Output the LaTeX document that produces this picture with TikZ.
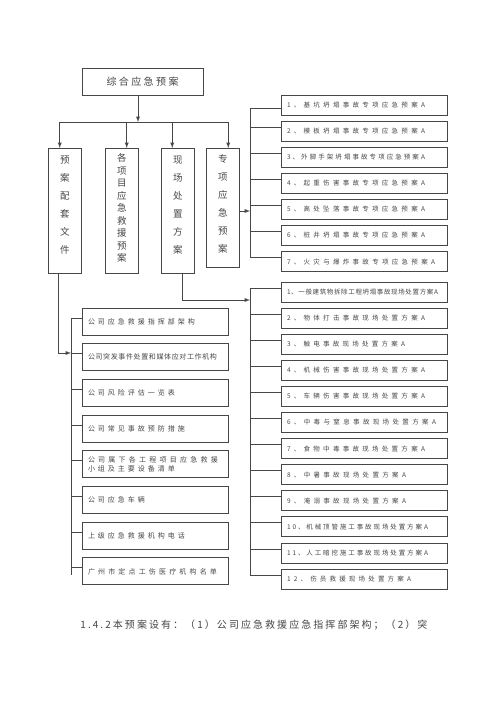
\documentclass[tikz,border=0pt]{standalone}
\usepackage{fontspec}
\setmainfont{Noto Sans CJK SC}
\newcommand\spread[2]{\hbox to #1{\expandafter\spreadA#2\relax}}
\def\spreadA#1{#1\futurelet\spreadnext\spreadB}
\def\spreadB{\ifx\spreadnext\relax\expandafter\spreadC\else\hfill\expandafter\spreadA\fi}
\def\spreadC\relax{}
\begin{document}
\begin{tikzpicture}[x=1pt,y=-1pt,line width=0.9pt,black!72,
    box/.style={draw,anchor=north west,inner ysep=0pt,inner xsep=6pt,outer sep=0pt,align=left},
    colbox/.style={draw,anchor=north west,inner sep=0pt,outer sep=0pt,minimum width=33.5pt,
        align=center,text depth=12pt,font=\fontsize{9.5}{18}\selectfont},
    lbox/.style={box,text width=134pt,minimum height=27pt,font=\fontsize{7}{8.5}\selectfont},
    rbox/.style={box,text width=154pt,minimum height=20pt,font=\fontsize{6.5}{8}\selectfont}]
    \path[fill=white,use as bounding box] (0,0) rectangle (500,707);
    \node[box,minimum width=121pt,minimum height=27pt,inner xsep=0pt,align=center,
        font=\fontsize{10}{12}\selectfont] (top) at (82,68) {\spread{72pt}{综合应急预案}};
    \node[colbox,minimum height=125pt] (a) at (48,148) {预\\案\\配\\套\\文\\件};
    \node[colbox,minimum height=125pt,text depth=6pt,font=\fontsize{9.5}{12.5}\selectfont] (b) at (105,148)
        {各\\项\\目\\应\\急\\救\\援\\预\\案};
    \node[colbox,minimum height=125pt] (c) at (161,148) {现\\场\\处\\置\\方\\案};
    \node[colbox,minimum height=119pt,text depth=8pt] (d) at (206,148) {专\\项\\应\\急\\预\\案};
    \coordinate (bus) at (0,122);
    \coordinate (t0) at ([xshift=-4.5pt]top.south);
    \draw[-latex] (t0) -- (t0 |- bus);
    \foreach \c/\s in {a/-5,b/5,c/-5.5,d/5.5}
    {
        \coordinate (\c0) at ([xshift=\s pt]\c.north);
        \draw[-latex] (\c0 |- bus) -- (\c0);
    }
    \draw (a0 |- bus) -- (d0 |- bus);
    \coordinate (r1) at (250,0);
    \coordinate (dd) at ([yshift=-3.5pt]d.east);
    \draw[-latex] (dd) -- (dd -| r1);
    \foreach \i/\o/\w/\t in {1/13/138/1、基坑坍塌事故专项应急预案A,2/6/138/2、模板坍塌事故专项应急预案A,
        3/6/138/3、外脚手架坍塌事故专项应急预案A,4/6/138/4、起重伤害事故专项应急预案A,
        5/6/138/5、高处坠落事故专项应急预案A,6/6/138/6、桩井坍塌事故专项应急预案A,
        7/6/148/7、火灾与爆炸事故专项应急预案A}
    {
        \node[rbox] (s\i) at (281,{95+26.1*(\i-1)}) {\spread{\w pt}{\t}};
        \coordinate (sj\i) at ([yshift=-\o pt]s\i.north west);
        \draw (sj\i -| r1) -- (sj\i);
    }
    \draw (sj1 -| r1) -- (sj7 -| r1);
    \coordinate (c1) at ([xshift=4.5pt]c.south);
    \coordinate (r2) at (250,300);
    \draw[-latex] (c1) |- (r2);
    \foreach \i/\w/\t in {1/151/1、一般建筑物拆除工程坍塌事故现场处置方案A,2/138/2、物体打击事故现场处置方案A,
        3/118/3、触电事故现场处置方案A,4/138/4、机械伤害事故现场处置方案A,
        5/138/5、车辆伤害事故现场处置方案A,6/149/6、中毒与窒息事故现场处置方案A,
        7/138/7、食物中毒事故现场处置方案A,8/119/8、中暑事故现场处置方案A,
        9/119/9、淹溺事故现场处置方案A,10/141/10、机械顶管施工事故现场处置方案A,
        11/141/11、人工暗挖施工事故现场处置方案A,12/124/12、伤员救援现场处置方案A}
    {
        \node[rbox] (p\i) at (281,{282+26.1*(\i-1)}) {\spread{\w pt}{\t}};
        \coordinate (pj\i) at ([yshift=-6pt]p\i.north west);
        \draw (pj\i -| r2) -- (pj\i);
    }
    \draw (pj1 -| r2) -- (pj12 -| r2);
    \coordinate (a1) at ([xshift=-6pt]a.south);
    \coordinate (l0) at (71,353);
    \draw[-latex] (a1) |- (l0);
    \foreach \i/\w/\t in {1/107/公司应急救援指挥部架构,2/129/公司突发事件处置和媒体应对工作机构,
        3/87/公司风险评估一览表,4/97/公司常见事故预防措施,6/57/公司应急车辆,
        7/97/上级应急救援机构电话,8/129/广州市定点工伤医疗机构名单}
    {
        \node[lbox] (q\i) at (82,{308+35.7*(\i-1)}) {\spread{\w pt}{\t}};
    }
    \node[lbox] (q5) at (82,{308+35.7*4}) {\spread{130pt}{公司属下各工程项目应急救援}\\\spread{87pt}{小组及主要设备清单}};
    \foreach \i in {1,...,8}
    {
        \coordinate (qj\i) at ([yshift=-10pt]q\i.north west);
        \draw (qj\i -| l0) -- (qj\i);
    }
    \draw (qj1 -| l0) -- ([yshift=-7pt]qj8 -| l0);
    \node[anchor=west,inner sep=0pt,font=\fontsize{10}{12}\selectfont] (txt) at (80,625)
        {\spread{347pt}{1.4.2本预案设有：（1）公司应急救援应急指挥部架构；（2）突}};
\end{tikzpicture}
\end{document}
